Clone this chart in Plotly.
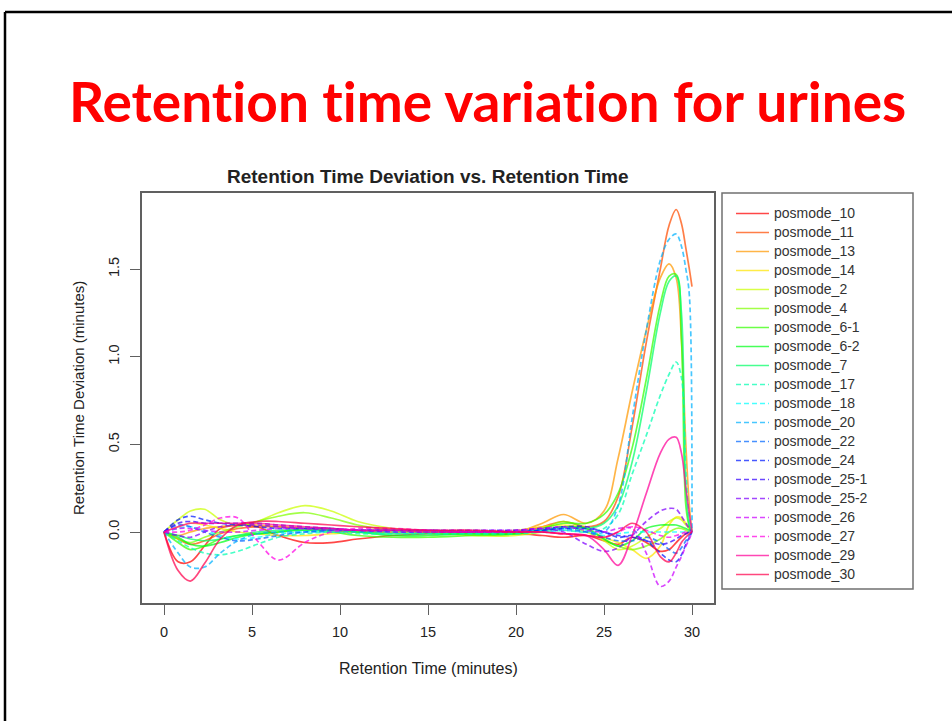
import colorsys
import plotly.graph_objects as go

# Retention time grid (minutes) at which each sample's deviation is sampled
retention_time = [0, 0.8, 1.5, 2.3, 3.2, 4.2, 5.3, 6.5, 8, 9.5,
                  11, 13, 15, 17.5, 20, 21.5, 22.7, 24,
                  25, 25.8, 26.6, 27.4, 28.2, 28.7, 29.1, 29.4, 29.65, 29.85, 30]

# Retention time deviation (minutes) per sample
posmode_10 = [0, -0.17, -0.17, -0.08, 0.02, 0.04, 0.03, -0.02, -0.06, -0.06,
              -0.04, -0.02, -0.01, -0.01, -0.01, -0.02, -0.03, -0.02,
              -0.05, -0.07, -0.03, -0.06, -0.11, -0.10, -0.06, -0.03, -0.01, 0.0, 0.0]
posmode_11 = [0, -0.04, -0.07, -0.05, -0.01, 0.02, 0.03, 0.03, 0.02, 0.01,
              0.0, 0.0, 0.0, 0.0, 0.0, 0.03, 0.06, 0.03,
              0.06, 0.2, 0.6, 1.08, 1.5, 1.75, 1.84, 1.76, 1.62, 1.5, 1.40]
posmode_13 = [0, -0.02, 0.0, 0.02, 0.03, 0.04, 0.04, 0.03, 0.02, 0.01,
              0.0, 0.0, 0.0, 0.0, 0.0, 0.05, 0.10, 0.05,
              0.12, 0.42, 0.8, 1.15, 1.45, 1.53, 1.45, 1.1, 0.5, 0.15, 0.0]
posmode_14 = [0, 0.03, 0.05, 0.04, 0.02, 0.0, -0.01, -0.02, -0.02, -0.01,
              0.0, 0.0, 0.0, 0.0, 0.01, 0.03, 0.04, 0.02,
              -0.03, -0.06, -0.10, -0.15, -0.08, 0.04, 0.085, 0.08, 0.05, 0.02, 0.0]
posmode_2 = [0, 0.07, 0.12, 0.13, 0.07, 0.04, 0.06, 0.11, 0.15, 0.12,
             0.06, 0.02, 0.0, -0.02, -0.02, 0.0, 0.03, 0.0,
             -0.05, -0.1, -0.08, -0.03, 0.02, 0.06, 0.08, 0.07, 0.04, 0.02, 0.0]
posmode_4 = [0, -0.04, -0.06, -0.03, 0.0, 0.03, 0.06, 0.09, 0.11, 0.08,
             0.04, 0.01, 0.0, -0.01, -0.01, 0.02, 0.06, 0.02,
             -0.04, -0.08, -0.10, -0.08, -0.04, 0.0, 0.02, 0.02, 0.01, 0.0, 0.0]
posmode_6_1 = [0, -0.06, -0.1, -0.08, -0.04, -0.02, -0.01, 0.0, 0.01, 0.0,
               -0.02, -0.03, -0.03, -0.02, -0.01, 0.02, 0.05, 0.05,
               0.1, 0.22, 0.48, 0.87, 1.3, 1.46, 1.47, 1.1, 0.15, 0.03, 0.0]
posmode_6_2 = [0, -0.03, -0.07, -0.08, -0.06, -0.03, -0.01, 0.0, 0.02, 0.02,
               0.0, -0.02, -0.02, -0.01, -0.01, 0.01, 0.03, 0.02,
               -0.04, -0.08, -0.05, 0.02, 0.04, 0.04, 0.04, 0.03, 0.02, 0.01, 0.0]
posmode_7 = [0, -0.02, -0.04, -0.05, -0.04, -0.02, 0.0, 0.01, 0.01, 0.01,
             0.0, -0.01, -0.01, -0.01, 0.0, 0.01, 0.03, 0.02,
             0.05, 0.15, 0.4, 0.8, 1.25, 1.43, 1.46, 1.25, 0.25, 0.04, 0.0]
posmode_17 = [0, -0.05, -0.09, -0.12, -0.13, -0.11, -0.07, -0.03, -0.01, 0.0,
              -0.01, -0.01, -0.01, -0.01, -0.01, 0.0, 0.01, 0.0,
              0.02, 0.1, 0.33, 0.55, 0.78, 0.9, 0.97, 0.88, 0.35, 0.08, 0.0]
posmode_18 = [0, 0.02, 0.03, 0.01, -0.02, -0.04, -0.03, -0.01, 0.0, 0.01,
              0.01, 0.0, 0.0, 0.0, 0.0, 0.01, 0.02, 0.01,
              -0.02, -0.01, 0.0, 0.0, 0.0, 0.0, 0.0, 0.0, 0.0, 0.0, 0.0]
posmode_20 = [0, -0.12, -0.2, -0.2, -0.12, -0.05, -0.01, 0.0, 0.0, 0.0,
              0.0, 0.0, 0.0, 0.0, 0.0, 0.0, 0.01, 0.0,
              0.0, 0.15, 0.65, 1.15, 1.55, 1.67, 1.70, 1.63, 1.5, 1.35, 0.0]
posmode_22 = [0, 0.04, 0.03, 0.0, -0.03, -0.05, -0.04, -0.02, 0.0, 0.01,
              0.01, 0.01, 0.0, 0.0, 0.0, 0.01, 0.02, 0.0,
              -0.03, -0.05, -0.05, -0.03, -0.06, -0.1, -0.12, -0.09, -0.05, -0.02, 0.0]
posmode_24 = [0, 0.07, 0.09, 0.07, 0.05, 0.04, 0.03, 0.02, 0.02, 0.02,
              0.01, 0.01, 0.01, 0.0, 0.0, 0.01, 0.02, 0.02,
              0.0, -0.03, -0.02, -0.05, -0.12, -0.16, -0.17, -0.13, -0.07, -0.03, 0.0]
posmode_25_1 = [0, 0.05, 0.06, 0.05, 0.05, 0.05, 0.05, 0.04, 0.03, 0.02,
                0.01, 0.01, 0.01, 0.01, 0.01, 0.02, 0.03, 0.03,
                0.0, -0.02, -0.03, -0.05, -0.07, -0.06, -0.04, -0.02, -0.01, 0.0, 0.0]
posmode_25_2 = [0, -0.02, -0.03, 0.0, 0.03, 0.04, 0.04, 0.03, 0.02, 0.01,
                0.01, 0.0, 0.0, 0.0, 0.01, 0.02, 0.0, -0.07,
                -0.11, -0.09, -0.02, 0.06, 0.12, 0.135, 0.13, 0.09, 0.05, 0.02, 0.0]
posmode_26 = [0, 0.02, 0.02, 0.01, 0.0, 0.0, 0.01, 0.02, 0.02, 0.02,
              0.01, 0.01, 0.01, 0.01, 0.01, 0.02, 0.03, 0.01,
              0.0, 0.02, 0.02, -0.12, -0.31, -0.28, -0.2, -0.14, -0.08, -0.04, 0.0]
posmode_27 = [0, 0.0, 0.01, 0.04, 0.08, 0.08, -0.05, -0.16, -0.06, 0.0,
              0.02, 0.02, 0.01, 0.0, 0.0, 0.0, -0.01, -0.02,
              -0.03, 0.0, 0.03, 0.01, -0.02, -0.03, -0.02, -0.01, 0.0, 0.0, 0.0]
posmode_29 = [0, 0.03, 0.05, 0.05, 0.05, 0.05, 0.05, 0.04, 0.03, 0.02,
              0.01, 0.01, 0.0, 0.0, 0.0, 0.0, -0.01, -0.02,
              -0.1, -0.19, -0.02, 0.22, 0.45, 0.53, 0.54, 0.45, 0.25, 0.1, 0.0]
posmode_30 = [0, -0.22, -0.28, -0.18, -0.04, 0.04, 0.06, 0.06, 0.05, 0.04,
              0.03, 0.02, 0.01, 0.01, 0.0, 0.0, -0.01, -0.02,
              -0.03, 0.0, 0.05, 0.0, -0.14, -0.17, -0.12, -0.06, -0.03, -0.01, 0.0]

sample_names = ["posmode_10", "posmode_11", "posmode_13", "posmode_14", "posmode_2",
                "posmode_4", "posmode_6-1", "posmode_6-2", "posmode_7", "posmode_17",
                "posmode_18", "posmode_20", "posmode_22", "posmode_24", "posmode_25-1",
                "posmode_25-2", "posmode_26", "posmode_27", "posmode_29", "posmode_30"]
sample_values = [posmode_10, posmode_11, posmode_13, posmode_14, posmode_2,
                 posmode_4, posmode_6_1, posmode_6_2, posmode_7, posmode_17,
                 posmode_18, posmode_20, posmode_22, posmode_24, posmode_25_1,
                 posmode_25_2, posmode_26, posmode_27, posmode_29, posmode_30]

x_ticks = [0, 5, 10, 15, 20, 25, 30]
y_ticks = [0.0, 0.5, 1.0, 1.5]

# Page geometry (pixels) and the plotting region inside it
W, H = 952, 721
L, R, T, B = 142, 714, 193, 603


def px_x(px):
    return (px - L) / (R - L)


def px_y(py):
    return (B - py) / (B - T)


def rainbow(i, n, alpha=0.72):
    r, g, b = colorsys.hsv_to_rgb(i / n, 1.0, 1.0)
    return f"rgba({int(r*255)},{int(g*255)},{int(b*255)},{alpha})"


n = len(sample_names)
dashes = ["solid"] * 9 + ["5px,3px"] * 9 + ["solid"] * 2

fig = go.Figure()
for i, (name, vals) in enumerate(zip(sample_names, sample_values)):
    fig.add_trace(go.Scatter(
        x=retention_time, y=vals, mode="lines",
        name=f'<span style="font-size:14px">{name}</span>',
        line=dict(color=rainbow(i, n), width=1.7, dash=dashes[i],
                  shape="spline", smoothing=1.0),
    ))

axis_common = dict(
    showline=True, linecolor="#606060", linewidth=1.5, mirror=True,
    showgrid=False, zeroline=False, ticks="outside", ticklen=10,
    tickwidth=1.3, tickcolor="#606060",
    tickfont=dict(family="Liberation Sans", size=14.5, color="#222"),
)

fig.update_layout(
    width=W, height=H,
    margin=dict(l=L, r=W - R, t=T, b=H - B, autoexpand=False),
    paper_bgcolor="white", plot_bgcolor="white",
    xaxis=dict(range=[-1.25, 31.25], tickvals=x_ticks, ticklabelstandoff=5,
               **axis_common),
    yaxis=dict(range=[-0.405, 1.934], tickvals=y_ticks, tickformat=".1f",
               tickangle=-90, ticklabelstandoff=5, **axis_common),
    showlegend=True,
    legend=dict(
        x=px_x(731), y=px_y(199), xanchor="left", yanchor="top",
        bgcolor="rgba(0,0,0,0)", borderwidth=0,
        font=dict(family="Liberation Sans", size=12, color="#333"),
        itemwidth=33, tracegroupgap=0,
    ),
)

text_font = dict(family="Liberation Sans", color="#222")
# a zero-width non-joiner keeps "t" and "i" as separate glyphs (no ligature)
slide_title = "Retention time variation for urines".replace("ti", "t\u200ci")
fig.add_annotation(x=px_x(487), y=px_y(101), xref="paper", yref="paper",
                   text=f"<b>{slide_title}</b>", showarrow=False,
                   font=dict(family="Lato", size=55, color="#ff0000"),
                   xanchor="center", yanchor="middle")
fig.add_annotation(x=px_x(428), y=px_y(176), xref="paper", yref="paper",
                   text="<b>Retention Time Deviation vs. Retention Time</b>",
                   showarrow=False, font=dict(size=19, **text_font),
                   xanchor="center", yanchor="middle")
fig.add_annotation(x=px_x(428), y=px_y(668), xref="paper", yref="paper",
                   text="Retention Time (minutes)", showarrow=False,
                   font=dict(size=16, **text_font), xanchor="center", yanchor="middle")
fig.add_annotation(x=px_x(78), y=px_y(398), xref="paper", yref="paper",
                   text="Retention Time Deviation (minutes)", showarrow=False,
                   textangle=-90, font=dict(size=15, **text_font),
                   xanchor="center", yanchor="middle")

# Legend frame
fig.add_shape(type="rect", xref="paper", yref="paper",
              x0=px_x(722), x1=px_x(913), y0=px_y(589), y1=px_y(193),
              line=dict(color="#707070", width=1.5))
# Slide frame (top and left edges)
fig.add_shape(type="line", xref="paper", yref="paper",
              x0=px_x(5), x1=px_x(960), y0=px_y(12), y1=px_y(12),
              line=dict(color="black", width=2.5))
fig.add_shape(type="line", xref="paper", yref="paper",
              x0=px_x(5), x1=px_x(5), y0=px_y(12), y1=px_y(730),
              line=dict(color="black", width=2.5))

fig.write_html("out.html")
